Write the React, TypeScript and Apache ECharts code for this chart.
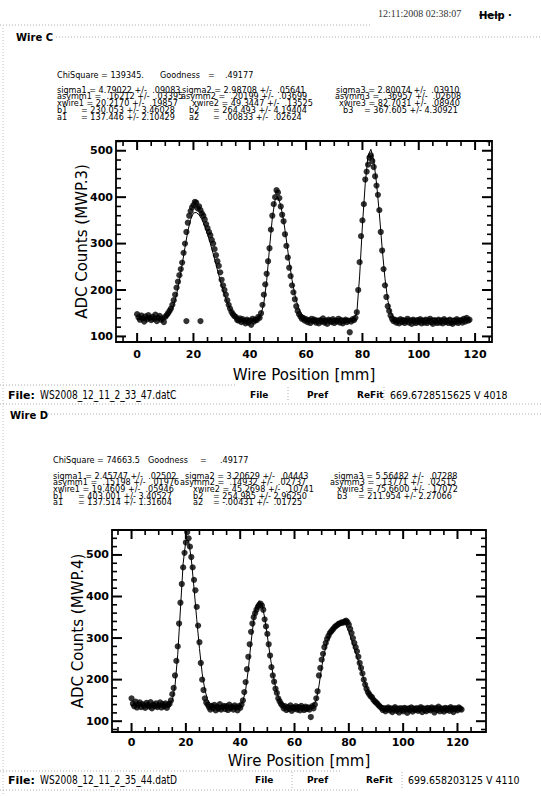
import React, { useEffect, useRef } from "react";
import * as echarts from "echarts";

// ---------- data ----------
const X_STEP = 0.5; // wire scan step [mm]
const FIT_STEP = 1;

// Wire C, ADC counts (MWP.3), starting at x = 0
const wireC_counts = [
  148, 141, 136, 145, 139, 132, 143, 137, 146, 140,
  135, 142, 138, 147, 133, 140, 144, 136, 139, 131,
  142, 146, 150, 155, 160, 168, 178, 190, 205, 218,
  232, 245, 259, 280, 300, 325, 345, 360, 370, 378,
  383, 390, 388, 376, 380, 372, 365, 360, 352, 342,
  333, 325, 318, 308, 300, 288, 275, 262, 252, 238,
  222, 210, 200, 190, 178, 168, 160, 153, 148, 144,
  142, 136, 134, 139, 131, 137, 133, 128, 136, 130,
  134, 125, 138, 132, 136, 135, 142, 140, 150, 168,
  190, 212, 235, 262, 290, 330, 360, 385, 400, 415,
  410, 398, 380, 362, 348, 320, 295, 270, 248, 230,
  210, 195, 180, 165, 155, 148, 143, 138, 140, 134,
  137, 131, 135, 129, 138, 133, 136, 130, 134, 128,
  135, 132, 139, 130, 134, 127, 136, 133, 131, 137,
  129, 134, 132, 138, 130, 135, 128, 133, 136, 131,
  134, 109, 132, 137, 135, 140, 152, 200, 260, 316,
  350, 385, 438, 455, 470, 485, 490, 478, 465, 445,
  425, 405, 372, 325, 285, 245, 210, 185, 165, 155,
  145, 138, 133, 136, 130, 134, 128, 137, 131, 135,
  129, 133, 138, 130, 134, 127, 136, 132, 129, 135,
  131, 137, 128, 134, 130, 136, 129, 133, 138, 131,
  127, 135, 132, 129, 136, 130, 134, 128, 137, 131,
  133, 129, 136, 130, 127, 134, 131, 137, 129, 133,
  135, 130, 138, 132, 140, 134, 136,
];
const wireC_outliers = [
  [17.5, 133],
  [22.5, 133],
];
const wireC_fit = [
  137, 137, 137, 137, 137, 137, 137, 137, 137, 137,
  139, 144, 153, 168, 190, 220, 255, 292, 327, 352,
  366, 367, 362, 352, 338, 320, 300, 278, 255, 232,
  210, 190, 173, 160, 151, 145, 141, 139, 138, 138,
  138, 138, 138, 140, 148, 172, 220, 290, 355, 395,
  400, 382, 350, 308, 262, 222, 190, 167, 152, 144,
  140, 138, 138, 138, 138, 138, 138, 138, 138, 138,
  138, 138, 138, 138, 138, 138, 138, 139, 150, 230,
  340, 430, 490, 503, 480, 430, 365, 290, 225, 178,
  152, 142, 139, 139, 139, 139, 139, 139, 139, 139,
  139, 139, 139, 139, 139, 139, 139, 139, 139, 139,
  139, 139, 139, 139, 139, 139, 139, 139, 139,
];

// Wire D, ADC counts (MWP.4), starting at x = 0
const wireD_counts = [
  155, 142, 136, 147, 133, 140, 145, 134, 141, 137,
  132, 144, 139, 135, 146, 131, 140, 136, 143, 134,
  138, 145, 133, 141, 136, 143, 132, 139, 142, 150,
  165, 180, 210, 245, 280, 335, 385, 430, 470, 505,
  530, 555, 540, 520, 495, 470, 440, 415, 375, 330,
  290, 240, 200, 175, 155, 145, 140, 134, 128, 137,
  131, 139, 126, 135, 130, 141, 128, 134, 137, 129,
  136, 127, 140, 131, 135, 128, 138, 133, 126, 136,
  132, 140, 150, 170, 194, 225, 255, 285, 315, 335,
  350, 360, 368, 375, 380, 383, 378, 368, 345, 328,
  310, 285, 258, 230, 210, 195, 178, 168, 155, 148,
  142, 138, 131, 136, 127, 134, 129, 138, 125, 133,
  130, 136, 128, 134, 126, 137, 131, 127, 135, 129,
  133, 128, 110, 136, 131, 140, 155, 172, 210, 228,
  248, 262, 278, 288, 298, 305, 312, 316, 320, 324,
  328, 330, 333, 335, 336, 338, 337, 340, 342, 338,
  332, 322, 312, 300, 288, 278, 268, 255, 240, 228,
  215, 200, 188, 178, 170, 165, 160, 158, 152, 148,
  145, 142, 138, 135, 132, 127, 131, 124, 129, 133,
  126, 130, 122, 128, 134, 125, 129, 121, 131, 127,
  124, 132, 128, 120, 130, 126, 133, 123, 129, 127,
  131, 125, 128, 134, 122, 130, 127, 124, 132, 128,
  126, 133, 129, 121, 131, 127, 135, 124, 130, 128,
  123, 132, 127, 130, 125, 134, 128, 122, 131, 129,
  126, 133, 130, 128,
];
const wireD_fit = [
  138, 138, 138, 138, 138, 138, 138, 138, 138, 138,
  138, 138, 138, 138, 140, 150, 185, 260, 370, 480,
  535, 535, 490, 420, 345, 275, 215, 175, 152, 142,
  139, 137, 137, 137, 137, 137, 137, 137, 137, 137,
  139, 148, 175, 225, 290, 345, 378, 390, 380, 350,
  305, 258, 215, 182, 160, 147, 140, 137, 137, 137,
  137, 137, 137, 137, 137, 137, 137, 140, 150, 185,
  230, 265, 290, 306, 318, 330, 337, 340, 338, 330,
  315, 295, 275, 255, 235, 212, 192, 175, 162, 152,
  145, 140, 137, 136, 136, 136, 136, 136, 136, 136,
  136, 136, 136, 136, 136, 136, 136, 136, 136, 136,
  136, 136, 136, 136, 136, 136, 136, 136, 136, 136,
  136, 136,
];

// axis ranges and ticks
const C_X_RANGE = [-7.5, 126];
const C_Y_RANGE = [88, 521];
const D_X_RANGE = [-7.2, 130.5];
const D_Y_RANGE = [74, 560];
const X_TICKS = [0, 20, 40, 60, 80, 100, 120];
const X_MINOR = [-5, 5, 10, 15, 25, 30, 35, 45, 50, 55, 65, 70, 75, 85, 90, 95, 105, 110, 115, 125];
const Y_TICKS = [100, 200, 300, 400, 500];
const Y_MINOR_C = [120, 140, 160, 180, 220, 240, 260, 280, 320, 340, 360, 380, 420, 440, 460, 480, 520];
const Y_MINOR_D = [80, 120, 140, 160, 180, 220, 240, 260, 280, 320, 340, 360, 380, 420, 440, 460, 480, 520, 540];

// fit parameter text
const fitC_head = ["ChiSquare = 139345.", "Goodness", "=", ".49177"];
const fitC_rows = [
  ["sigma1 = 4.79022 +/-  .09083", "sigma2 = 2.98708 +/-  .05641", "sigma3 = 2.80074 +/-  .03910"],
  ["asymm1 =  .16212 +/-  .03395", "asymm2 =  .20199 +/-  .03699", "asymm3 =  .36957 +/-  .02608"],
  ["xwire1 = 20.2170 +/-  .19857", "xwire2 = 49.3447 +/-  .13525", "xwire3 = 82.7031 +/-  .08940"],
];
const fitC_b = [["b1", "= 230.053 +/- 3.46028"], ["b2", "= 264.493 +/- 4.19404"], ["b3", "= 367.605 +/- 4.30921"]];
const fitC_a = [["a1", "= 137.446 +/- 2.10429"], ["a2", "=  .00833 +/-  .02624"]];

const fitD_head = ["ChiSquare = 74663.5", "Goodness", "=", ".49177"];
const fitD_rows = [
  ["sigma1 = 2.45747 +/-  .02502", "sigma2 = 3.20629 +/-  .04443", "sigma3 = 5.56482 +/-  .07288"],
  ["asymm1 =  .15198 +/-  .01976", "asymm2 =  .14932 +/-  .02737", "asymm3 =  .13771 +/-  .02515"],
  ["xwire1 = 19.4609 +/-  .05946", "xwire2 = 45.2698 +/-  .10741", "xwire3 = 75.6600 +/-  .17072"],
];
const fitD_b = [["b1", "= 403.001 +/- 3.40527"], ["b2", "= 254.985 +/- 2.96250"], ["b3", "= 211.954 +/- 2.27066"]];
const fitD_a = [["a1", "= 137.514 +/- 1.31604"], ["a2", "= -.00431 +/-  .01725"]];

const fileC = ["WS2008_12_11_2_33_47.datC", "669.6728515625 V 4018"];
const fileD = ["WS2008_12_11_2_35_44.datD", "699.658203125 V 4110"];

// ---------- helpers ----------
const SANS = '"DejaVu Sans", sans-serif';
const COND = '"DejaVu Sans Condensed", "DejaVu Sans", sans-serif';

function txt(text: string, x: number, y: number, font: string, extra: any = {}, el: any = {}) {
  return {
    type: "text",
    x,
    y,
    silent: true,
    ...el,
    style: { text, font, fill: "#000", textVerticalAlign: "middle", textAlign: "left", ...extra },
  };
}
function dotted(x1: number, y1: number, x2: number, y2: number, color = "#9a9a9a") {
  return {
    type: "line",
    silent: true,
    shape: { x1, y1, x2, y2 },
    style: { stroke: color, lineWidth: 0.8, lineDash: [1, 2] },
  };
}

function xAxisOf(gridIndex: number, range: number[], margin: number, nameGap: number) {
  return {
    type: "value",
    gridIndex,
    min: range[0],
    max: range[1],
    position: "bottom",
    splitLine: { show: false },
    axisLine: { show: false, onZero: false },
    axisTick: { show: false },
    axisLabel: { show: true, customValues: X_TICKS, margin, fontFamily: SANS, fontWeight: "bold", fontSize: 11, color: "#000" },
    name: "Wire Position [mm]",
    nameLocation: "middle",
    nameGap,
    nameMoveOverlap: false,
    nameTextStyle: { fontFamily: SANS, fontSize: 15, color: "#000" },
  };
}
function yAxisOf(gridIndex: number, range: number[], name: string) {
  return {
    type: "value",
    gridIndex,
    min: range[0],
    max: range[1],
    position: "left",
    splitLine: { show: false },
    axisLine: { show: false, onZero: false },
    axisTick: { show: false },
    axisLabel: { show: true, customValues: Y_TICKS, margin: 3, fontFamily: SANS, fontWeight: "bold", fontSize: 11, color: "#000" },
    name,
    nameLocation: "middle",
    nameGap: 27,
    nameMoveOverlap: false,
    nameTextStyle: { fontFamily: SANS, fontSize: 15, color: "#000" },
  };
}

// tick marks on all four frame sides, as thin rect symbols placed on the axis scales
function tickItems(xr: number[], yr: number[], yMinor: number[]) {
  const items: any[] = [];
  const xt = (v: number, len: number, w: number) => {
    items.push({ value: [v, yr[0]], symbolSize: [w, len], symbolOffset: [0, -len / 2] });
    items.push({ value: [v, yr[1]], symbolSize: [w, len], symbolOffset: [0, len / 2] });
  };
  const yt = (v: number, len: number, w: number) => {
    items.push({ value: [xr[0], v], symbolSize: [len, w], symbolOffset: [len / 2, 0] });
    items.push({ value: [xr[1], v], symbolSize: [len, w], symbolOffset: [-len / 2, 0] });
  };
  X_TICKS.forEach((v) => xt(v, 9, 2));
  X_MINOR.forEach((v) => xt(v, 5, 1.6));
  Y_TICKS.forEach((v) => yt(v, 10, 2));
  yMinor.forEach((v) => yt(v, 5, 1.6));
  return items;
}
function tickSeries(idx: number, xr: number[], yr: number[], yMinor: number[]) {
  return {
    type: "scatter",
    xAxisIndex: idx,
    yAxisIndex: idx,
    symbol: "rect",
    data: tickItems(xr, yr, yMinor),
    itemStyle: { color: "#000", opacity: 1 },
    silent: true,
    clip: false,
    z: 10,
  };
}

function fitBlock(head: string[], headX: number[], rows: string[][], b: string[][], a: string[][], ys: number[], cols: number[][], bVal: number[], bLab: number[]) {
  const font = `9px ${COND}`;
  const els: any[] = head.map((s, i) => txt(s, headX[i], ys[0], font));
  rows.forEach((r, i) => r.forEach((s, j) => els.push(txt(s, cols[i][j], ys[i + 1], font))));
  b.forEach((p, j) => {
    els.push(txt(p[0], bLab[j], ys[4], font));
    els.push(txt(p[1], bVal[j], ys[4], font));
  });
  a.forEach((p, j) => {
    els.push(txt(p[0], bLab[j], ys[5], font));
    els.push(txt(p[1], bVal[j], ys[5], font));
  });
  return els;
}

function fileRow(names: string[], y: number, pos: number[]) {
  return [
    txt("File:", 8, y, `bold 11px ${SANS}`),
    txt(names[0], 40, y, `12px ${COND}`, {}, { scaleX: 0.84 }),
    txt("File", pos[0], y, `bold 9px ${SANS}`),
    txt("Pref", pos[1], y, `bold 9px ${SANS}`),
    txt("ReFit", pos[2], y, `bold 9px ${SANS}`),
    txt(names[1], pos[3], y, `10.5px ${COND}`),
  ];
}

export default function App() {
  const ref = useRef<HTMLDivElement>(null);
  useEffect(() => {
    if (!ref.current) return;
    const chart = echarts.init(ref.current, null, { renderer: "svg" });

    const scatterStyle = { symbol: "circle", symbolSize: 6.2, itemStyle: { color: "#000" } };
    const fitStyle = { showSymbol: false, symbol: "none", lineStyle: { color: "#000", width: 1 }, z: 3 };
    const series: any[] = [
      { type: "line", xAxisIndex: 0, yAxisIndex: 0, data: wireC_fit.map((v, i) => [i * FIT_STEP, v]), ...fitStyle },
      { type: "scatter", xAxisIndex: 0, yAxisIndex: 0, data: wireC_counts.map((v, i) => [i * X_STEP, v]), ...scatterStyle, z: 2 },
      { type: "scatter", xAxisIndex: 0, yAxisIndex: 0, data: wireC_outliers, ...scatterStyle, z: 2 },
      tickSeries(0, C_X_RANGE, C_Y_RANGE, Y_MINOR_C),
      { type: "line", xAxisIndex: 1, yAxisIndex: 1, data: wireD_fit.map((v, i) => [i * FIT_STEP, v]), ...fitStyle },
      { type: "scatter", xAxisIndex: 1, yAxisIndex: 1, data: wireD_counts.map((v, i) => [i * X_STEP, v]), ...scatterStyle, z: 2 },
      tickSeries(1, D_X_RANGE, D_Y_RANGE, Y_MINOR_D),
    ];

    const graphics: any[] = [
      dotted(3, 28, 3, 796, "#b0b0b0"),
      dotted(0, 25, 372, 25),
      dotted(56, 37, 541, 37),
      txt("12:11:2008 02:38:07", 378, 13, `10px "Liberation Serif", serif`, { fill: "#333" }),
      txt("Help", 479, 15, `bold 10px ${SANS}`),
      { type: "rect", silent: true, shape: { x: 479, y: 14.5, width: 22, height: 1 }, style: { fill: "#000" } },
      txt("·", 508, 15, `bold 10px ${SANS}`),
      txt("Wire C", 16, 37, `bold 10px ${SANS}`),
      ...fitBlock(fitC_head, [57, 160, 208, 225], fitC_rows, fitC_b, fitC_a, [75, 89.5, 96.3, 103.1, 109.9, 116.7],
        [[57, 182, 336], [57, 181, 335], [57, 192, 339]], [81, 213, 364], [57, 189, 343]),
      dotted(0, 385, 235, 385),
      dotted(0, 404, 541, 404),
      dotted(288, 387, 288, 402),
      dotted(384, 387, 384, 402),
      ...fileRow(fileC, 395, [250, 307, 357, 390]),
      txt("Wire D", 10, 415, `bold 10px ${SANS}`),
      dotted(48, 414, 541, 414),
      ...fitBlock(fitD_head, [53, 148, 200, 220], fitD_rows, fitD_b, fitD_a, [460, 475.5, 482.2, 488.9, 495.6, 502.3],
        [[53, 185, 334], [53, 180, 330], [53, 193, 337]], [78, 213, 358], [53, 193, 337]),
      dotted(0, 771, 340, 771),
      dotted(0, 790, 360, 790),
      dotted(292, 772, 292, 788),
      dotted(402, 772, 402, 788),
      ...fileRow(fileD, 780, [255, 307, 366, 408]),
    ];

    chart.setOption({
      animation: false,
      backgroundColor: "#fff",
      grid: [
        { left: 116, top: 141, width: 376, height: 201, show: true, borderColor: "#000", borderWidth: 1.8, backgroundColor: "transparent" },
        { left: 112, top: 530, width: 374, height: 202, show: true, borderColor: "#000", borderWidth: 1.8, backgroundColor: "transparent" },
      ],
      xAxis: [xAxisOf(0, C_X_RANGE, 7, 25), xAxisOf(1, D_X_RANGE, 5, 21)],
      yAxis: [yAxisOf(0, C_Y_RANGE, "ADC Counts (MWP.3)"), yAxisOf(1, D_Y_RANGE, "ADC Counts (MWP.4)")],
      series,
      graphic: graphics,
    });

    return () => chart.dispose();
  }, []);

  return (
    <div
      ref={ref}
      style={{ position: "absolute", left: 0, top: 0, width: 541, height: 796, background: "#fff" }}
    />
  );
}
